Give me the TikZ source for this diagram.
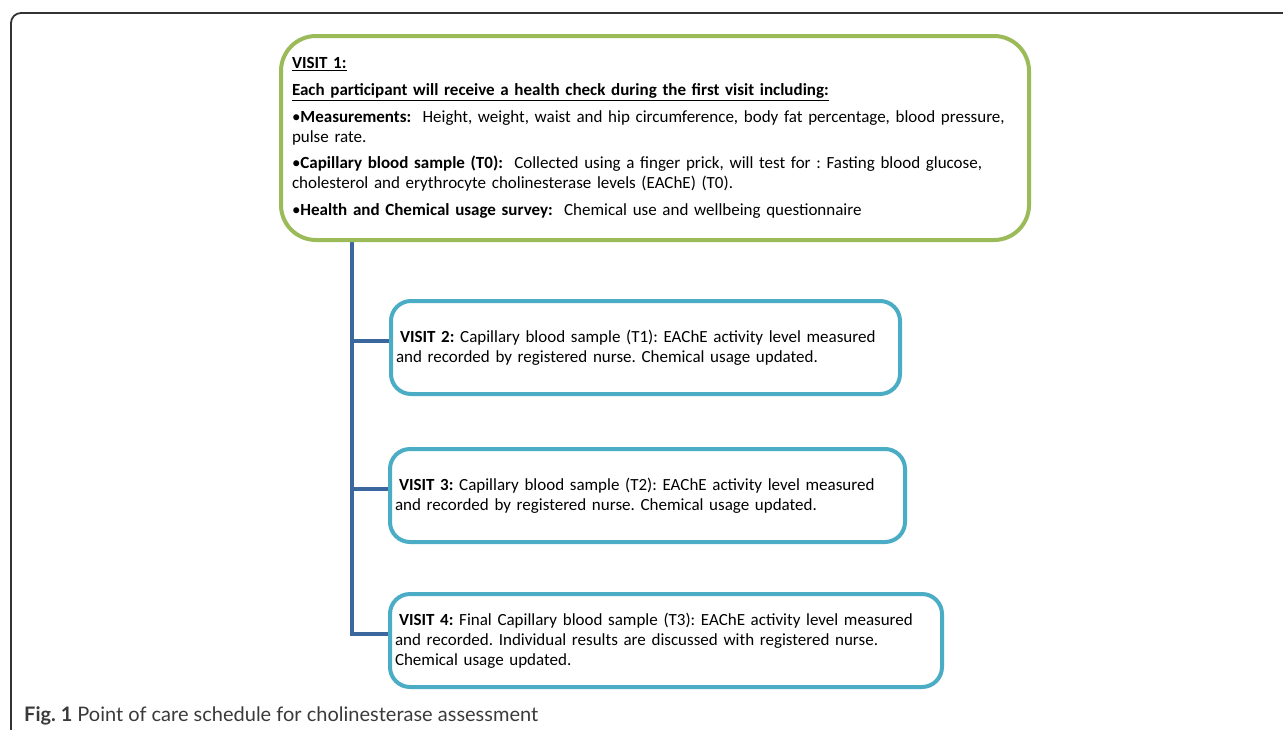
\documentclass[tikz,border=0pt]{standalone}
\usepackage{fontspec}
\setmainfont{Carlito}
\newfontfamily\capfont{Lato}
\usetikzlibrary{backgrounds}
\definecolor{vgreen}{HTML}{9BBB59}
\definecolor{vblue}{HTML}{4BACC6}
\definecolor{trunkc}{HTML}{3C679E}
\definecolor{framec}{HTML}{333333}
\definecolor{capc}{HTML}{3A3A3A}
\frenchspacing
\begin{document}
\begin{tikzpicture}[x=1pt,y=-1pt,
  every node/.style={font=\fontsize{17}{20}\selectfont},
  mainbox/.style={draw=vgreen, line width=4pt, rounded corners=35pt, anchor=north west,
    inner xsep=11pt, inner ysep=0pt, align=left, minimum height=204pt},
  visitbox/.style={draw=vblue, line width=4pt, rounded corners=20pt, anchor=north west,
    inner xsep=5pt, inner ysep=0pt, align=left, minimum height=93pt},
  trunk/.style={draw=trunkc, line width=4pt},
  framestyle/.style={draw=framec, line width=1.8pt, rounded corners=10pt}]
\useasboundingbox (0,0) rectangle (1283,729);
\draw[framestyle] (11,745) -- (11,13) -- (1300,13);

\node[mainbox, text width=726pt] (v1) at (279,34) {%
\textbf{\underline{VISIT 1:}}\\[7pt]
\textbf{\underline{Each participant will receive a health check during the first visit including:}}\\[7pt]
•\textbf{Measurements:}\ \ Height, weight, waist and hip circumference, body fat percentage, blood pressure,\\
pulse rate.\\[6pt]
•\textbf{Capillary blood sample (T0):}\ \ Collected using a finger prick, will test for : Fasting blood glucose,\\
cholesterol and erythrocyte cholinesterase levels (EAChE) (T0).\\[7pt]
•\textbf{Health and Chemical usage survey:}\ \ Chemical use and wellbeing questionnaire};

\node[visitbox, text width=499pt] (v2) at (389,299) {%
\hspace{4pt}\textbf{VISIT 2:} Capillary blood sample (T1): EAChE activity level measured\\
and recorded by registered nurse. Chemical usage updated.};

\node[visitbox, text width=505pt] (v3) at (388,447) {%
\hspace{4pt}\textbf{VISIT 3:} Capillary blood sample (T2): EAChE activity level measured\\
and recorded by registered nurse. Chemical usage updated.};

\node[visitbox, text width=542pt] (v4) at (388,592) {%
\hspace{4pt}\textbf{VISIT 4:} Final Capillary blood sample (T3): EAChE activity level measured\\
and recorded. Individual results are discussed with registered nurse.\\
Chemical usage updated.};

\coordinate (tx) at (352,0);
\begin{pgfonlayer}{background}
\draw[trunk] (v1.south -| tx) |- ([yshift=7pt]v2.west);
\draw[trunk] (v1.south -| tx) |- ([yshift=7pt]v3.west);
\draw[trunk] (v1.south -| tx) |- ([yshift=7pt]v4.west);
\end{pgfonlayer}

\node[anchor=base west, inner sep=0pt, text=capc, font=\capfont\fontsize{20}{22}\selectfont] (cap) at (24,721)
  {\textbf{Fig. 1} Point of care schedule for cholinesterase assessment};
\end{tikzpicture}
\end{document}
